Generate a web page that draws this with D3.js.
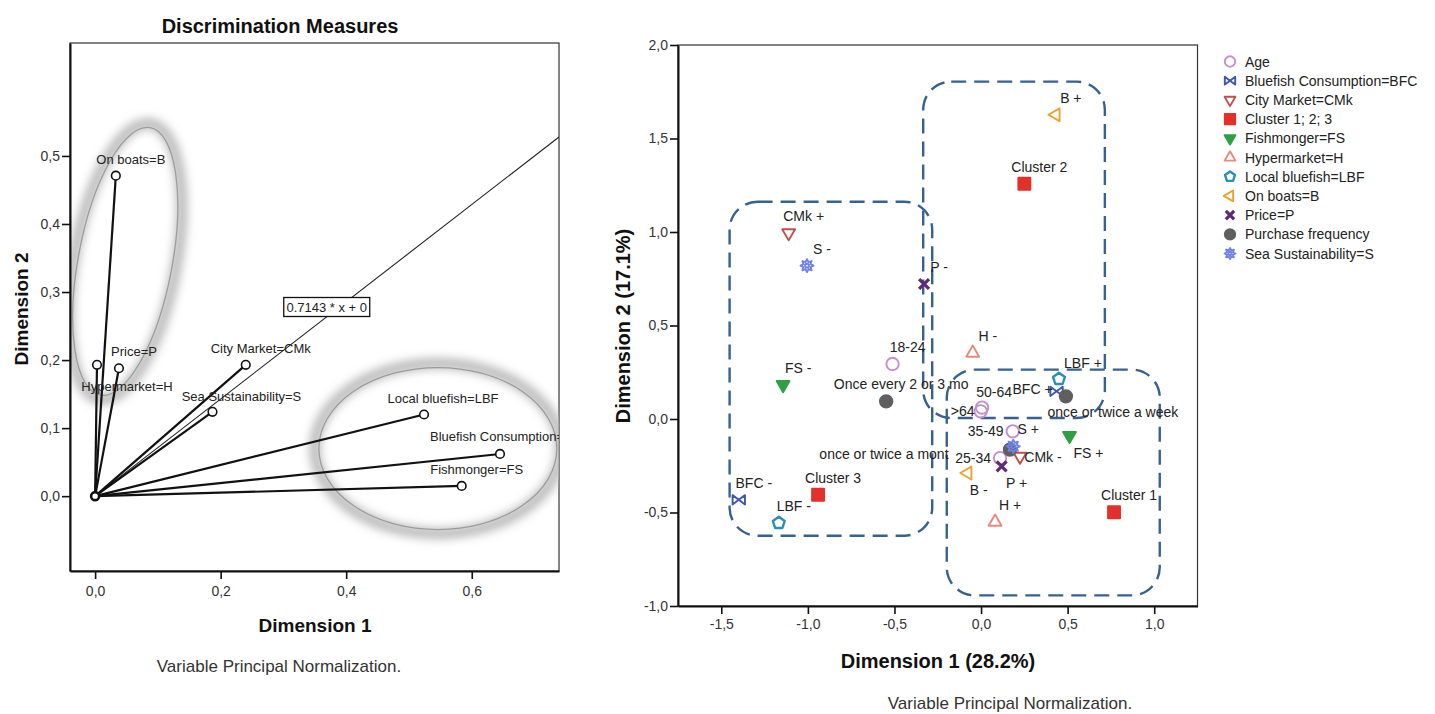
<!DOCTYPE html>
<html>
<head>
<meta charset="utf-8">
<title>Discrimination Measures and Joint Plot</title>
<script src="https://cdn.jsdelivr.net/npm/d3@7"></script>
<style>
  body { margin: 0; background: #fff; }
  svg text { font-family: "Liberation Sans", Arial, sans-serif; }
</style>
</head>
<body>
<svg id="chart" width="1435" height="714"></svg>
<script>
// ---- left panel: discrimination measures
var dmNames = ['On boats=B', 'Price=P', 'Hypermarket=H', 'City Market=CMk', 'Sea Sustainability=S',
               'Local bluefish=LBF', 'Bluefish Consumption=BFC', 'Fishmonger=FS']
var dmDim1 = [0.033, 0.038, 0.003, 0.240, 0.187, 0.524, 0.645, 0.584]
var dmDim2 = [0.471, 0.188, 0.193, 0.193, 0.124, 0.120, 0.062, 0.015]
var dmTicksX = [0.0, 0.2, 0.4, 0.6]
var dmTicksY = [0.0, 0.1, 0.2, 0.3, 0.4, 0.5]
var fitSlope = 0.7143
var fitText = '0.7143 * x + 0'

// ---- right panel: category points
var legendNames = ['Age', 'Bluefish Consumption=BFC', 'City Market=CMk', 'Cluster 1; 2; 3', 'Fishmonger=FS',
                   'Hypermarket=H', 'Local bluefish=LBF', 'On boats=B', 'Price=P', 'Purchase frequency',
                   'Sea Sustainability=S']
var catLabels = ['18-24', '25-34', '35-49', '50-64', '>64',
                 'BFC -', 'BFC +', 'CMk +', 'CMk -',
                 'Cluster 1', 'Cluster 2', 'Cluster 3',
                 'FS -', 'FS +', 'H -', 'H +', 'LBF +', 'LBF -', 'B +', 'B -', 'P -', 'P +',
                 'Once every 2 or 3 mo', 'once or twice a mont', 'once or twice a week',
                 'S -', 'S +']
var catGroup = [0, 0, 0, 0, 0,
                1, 1, 2, 2,
                3, 3, 3,
                4, 4, 5, 5, 6, 6, 7, 7, 8, 8,
                9, 9, 9,
                10, 10]
var catDim1 = [-0.511, 0.110, 0.183, 0.006, -0.002,
               -1.399, 0.436, -1.111, 0.225,
               0.768, 0.250, -0.941,
               -1.143, 0.511, -0.048, 0.081, 0.450, -1.168, 0.432, -0.077, -0.329, 0.119,
               -0.548, 0.167, 0.490,
               -1.005, 0.186]
var catDim2 = [0.294, -0.209, -0.066, 0.061, 0.041,
               -0.432, 0.148, 0.995, -0.200,
               -0.499, 1.258, -0.405,
               0.183, -0.089, 0.353, -0.551, 0.214, -0.556, 1.627, -0.289, 0.722, -0.253,
               0.094, -0.164, 0.121,
               0.820, -0.146]
var jpTicksX = [-1.5, -1.0, -0.5, 0.0, 0.5, 1.0]
var jpTicksY = [-1.0, -0.5, 0.0, 0.5, 1.0, 1.5, 2.0]
// dashed cluster regions [x0, x1, y0, y1] in dimension units
var regionX0 = [-1.452, -0.334, -0.198]
var regionX1 = [-0.282, 0.715, 1.032]
var regionY0 = [-0.624, 0.005, -0.943]
var regionY1 = [1.162, 1.804, 0.264]

// ---- styles and label placement
var groupStyle = [
  {shape: 'circle', color: '#c58fca', fill: false},
  {shape: 'bowtie', color: '#3b57b3', fill: false},
  {shape: 'triDown', color: '#c0504d', fill: false},
  {shape: 'square', color: '#e4302a', fill: true},
  {shape: 'triDown', color: '#2ea043', fill: true},
  {shape: 'triUp', color: '#e58b7b', fill: false},
  {shape: 'pentagon', color: '#2a8fb5', fill: false},
  {shape: 'triLeft', color: '#f0a030', fill: false},
  {shape: 'x', color: '#5e2a78', fill: false},
  {shape: 'circle', color: '#5f5f5f', fill: true},
  {shape: 'star', color: '#6f82e6', fill: false}
]
var jpLabelShift = {
  'LBF +': [24, -16], 'BFC +': [-24, -2], 'once or twice a week': [47, 16], '>64': [-18, 0],
  '50-64': [12, -16], '35-49': [-27, 0], '25-34': [-27, 0], 'CMk -': [23, 1], 'P +': [15, 17],
  'B -': [11, 17], 'FS +': [19, 17], 'once or twice a mont': [-126, 4]
}
var dmLabelShift = {
  'Hypermarket=H': [30, 22], 'Sea Sustainability=S': [29, -15], 'Local bluefish=LBF': [19, -16.5]
}

var svg = d3.select('#chart')
var fmt = d3.formatLocale({decimal: ',', thousands: '.', grouping: [3], currency: ['', ''], minus: '-'}).format('.1f')
var defs = svg.append('defs')
defs.append('filter').attr('id', 'glow').attr('x', '-40%').attr('y', '-40%').attr('width', '180%').attr('height', '180%')
  .append('feGaussianBlur').attr('stdDeviation', 5)

function markerPath(shape, r) {
  var p = d3.path(), i, a
  if (shape === 'circle') {
    p.moveTo(r, 0); p.arc(0, 0, r, 0, 2 * Math.PI); p.closePath()
  } else if (shape === 'square') {
    p.rect(-r, -r, 2 * r, 2 * r)
  } else if (shape.indexOf('tri') === 0) {
    var rot = {triUp: -90, triDown: 90, triLeft: 180}[shape]
    for (i = 0; i < 3; i++) {
      a = (rot + i * 120) * Math.PI / 180
      if (i) p.lineTo(r * 1.2 * Math.cos(a), r * 1.2 * Math.sin(a))
      else p.moveTo(r * 1.2 * Math.cos(a), r * 1.2 * Math.sin(a))
    }
    p.closePath()
  } else if (shape === 'pentagon') {
    for (i = 0; i < 5; i++) {
      a = (-90 + i * 72) * Math.PI / 180
      if (i) p.lineTo(r * Math.cos(a), r * Math.sin(a))
      else p.moveTo(r * Math.cos(a), r * Math.sin(a))
    }
    p.closePath()
  } else if (shape === 'bowtie') {
    p.moveTo(-r, -r * 0.75); p.lineTo(0, 0); p.lineTo(-r, r * 0.75); p.closePath()
    p.moveTo(r, -r * 0.75); p.lineTo(0, 0); p.lineTo(r, r * 0.75); p.closePath()
  } else if (shape === 'x') {
    p.moveTo(-r * 0.8, -r * 0.8); p.lineTo(r * 0.8, r * 0.8)
    p.moveTo(r * 0.8, -r * 0.8); p.lineTo(-r * 0.8, r * 0.8)
  } else if (shape === 'star') {
    for (i = 0; i < 16; i++) {
      a = (-90 + i * 22.5) * Math.PI / 180
      var rr = i % 2 ? r * 0.62 : r * 1.05
      if (i) p.lineTo(rr * Math.cos(a), rr * Math.sin(a))
      else p.moveTo(rr * Math.cos(a), rr * Math.sin(a))
    }
    p.closePath()
    p.moveTo(r * 0.3, 0); p.arc(0, 0, r * 0.3, 0, 2 * Math.PI)
  }
  return p.toString()
}

function drawMarker(sel, st, r) {
  sel.append('path')
    .attr('d', markerPath(st.shape, r))
    .attr('fill', st.fill ? st.color : 'none')
    .attr('stroke', st.color)
    .attr('stroke-width', st.shape === 'x' ? 3.2 : (st.shape === 'pentagon' ? 2.4 : 1.9))
    .attr('stroke-linejoin', 'round')
}

function styleAxis(g) {
  g.select('.domain').attr('stroke', '#111').attr('stroke-width', 2)
  g.selectAll('.tick line').attr('stroke', '#111').attr('stroke-width', 1.6)
  g.selectAll('.tick text').attr('font-size', 14).attr('fill', '#333')
    .attr('font-family', '"Liberation Sans", Arial, sans-serif')
}

// =============== LEFT PANEL ===============
var L = {left: 70, right: 559, top: 43, bottom: 571}
var xL = d3.scaleLinear().domain([-0.040, 0.739]).range([L.left, L.right])
var yL = d3.scaleLinear().domain([-0.110, 0.666]).range([L.bottom, L.top])
defs.append('clipPath').attr('id', 'clipL').append('rect')
  .attr('x', L.left).attr('y', L.top).attr('width', L.right - L.left).attr('height', L.bottom - L.top)

var gL = svg.append('g')
gL.append('rect').attr('x', L.left).attr('y', L.top).attr('width', L.right - L.left).attr('height', L.bottom - L.top)
  .attr('fill', 'none').attr('stroke', '#333').attr('stroke-width', 1.2)

gL.append('text').attr('x', 280).attr('y', 33).attr('text-anchor', 'middle')
  .attr('font-size', 20).attr('font-weight', 'bold').attr('fill', '#111').text('Discrimination Measures')

var plotL = gL.append('g').attr('clip-path', 'url(#clipL)')

// highlighted groups
var ellipses = [
  {cx: 0.048, cy: 0.345, rx: 47, ry: 136, rot: 10.6},
  {cx: 0.546, cy: 0.070, rx: 119, ry: 81, rot: 0}
]
ellipses.forEach(function(e) {
  var cx = xL(e.cx), cy = yL(e.cy)
  plotL.append('ellipse').attr('cx', cx).attr('cy', cy).attr('rx', e.rx + 4).attr('ry', e.ry + 4)
    .attr('transform', 'rotate(' + e.rot + ',' + cx + ',' + cy + ')')
    .attr('fill', 'none').attr('stroke', '#b9b9b9').attr('stroke-width', 11).attr('filter', 'url(#glow)')
  plotL.append('ellipse').attr('cx', cx).attr('cy', cy).attr('rx', e.rx).attr('ry', e.ry)
    .attr('transform', 'rotate(' + e.rot + ',' + cx + ',' + cy + ')')
    .attr('fill', 'none').attr('stroke', '#9c9c9c').attr('stroke-width', 1.3)
})

// fit line
var xEnd = xL.domain()[1]
plotL.append('line').attr('x1', xL(0)).attr('y1', yL(0)).attr('x2', xL(xEnd)).attr('y2', yL(fitSlope * xEnd))
  .attr('stroke', '#222').attr('stroke-width', 1.1)
var fitBox = plotL.append('g').attr('transform', 'translate(' + xL(0.369) + ',' + yL(0.278) + ')')
fitBox.append('rect').attr('x', -43).attr('y', -9.5).attr('width', 86).attr('height', 19)
  .attr('fill', '#fff').attr('stroke', '#111').attr('stroke-width', 1.3)
fitBox.append('text').attr('x', 0).attr('y', 5).attr('text-anchor', 'middle').attr('font-size', 13)
  .attr('fill', '#222').text(fitText)

// vectors
var dm = dmNames.map(function(n, i) { return {name: n, x: dmDim1[i], y: dmDim2[i]} })
plotL.selectAll('.vec').data(dm).enter().append('line')
  .attr('x1', xL(0)).attr('y1', yL(0))
  .attr('x2', function(d) { return xL(d.x) }).attr('y2', function(d) { return yL(d.y) })
  .attr('stroke', '#111').attr('stroke-width', 2.2)
plotL.selectAll('.pt').data(dm).enter().append('circle')
  .attr('cx', function(d) { return xL(d.x) }).attr('cy', function(d) { return yL(d.y) })
  .attr('r', 4.3).attr('fill', '#fff').attr('stroke', '#111').attr('stroke-width', 1.6)
plotL.append('circle').attr('cx', xL(0)).attr('cy', yL(0)).attr('r', 4)
  .attr('fill', '#fff').attr('stroke', '#111').attr('stroke-width', 2.6)
plotL.selectAll('.lab').data(dm).enter().append('text')
  .attr('font-size', 13).attr('fill', '#222')
  .attr('text-anchor', function(d) { return d.name === 'Bluefish Consumption=BFC' ? 'start' : 'middle' })
  .attr('x', function(d) {
    if (d.name === 'Bluefish Consumption=BFC') return xL(d.x) - 70
    return xL(d.x) + (dmLabelShift[d.name] ? dmLabelShift[d.name][0] : 15)
  })
  .attr('y', function(d) {
    if (d.name === 'Bluefish Consumption=BFC') return yL(d.y) - 13
    return yL(d.y) + (dmLabelShift[d.name] ? dmLabelShift[d.name][1] : -16.5) + 4.5
  })
  .text(function(d) { return d.name })

gL.append('g').attr('transform', 'translate(0,' + L.bottom + ')')
  .call(d3.axisBottom(xL).tickValues(dmTicksX).tickFormat(fmt).tickSize(8).tickSizeOuter(0).tickPadding(7))
  .call(styleAxis)
gL.append('g').attr('transform', 'translate(' + L.left + ',0)')
  .call(d3.axisLeft(yL).tickValues(dmTicksY).tickFormat(fmt).tickSize(8).tickSizeOuter(0).tickPadding(2))
  .call(styleAxis)

gL.append('text').attr('x', 315).attr('y', 632).attr('text-anchor', 'middle').attr('font-size', 19)
  .attr('font-weight', 'bold').attr('fill', '#111').text('Dimension 1')
gL.append('text').attr('transform', 'translate(28,309) rotate(-90)').attr('text-anchor', 'middle')
  .attr('font-size', 19).attr('font-weight', 'bold').attr('fill', '#111').text('Dimension 2')
gL.append('text').attr('x', 279).attr('y', 672).attr('text-anchor', 'middle').attr('font-size', 17)
  .attr('fill', '#333').text('Variable Principal Normalization.')

// =============== RIGHT PANEL ===============
var R = {left: 678, right: 1197.5, top: 45, bottom: 606}
var xR = d3.scaleLinear().domain([-1.75, 1.25]).range([R.left, R.right])
var yR = d3.scaleLinear().domain([-1.0, 2.0]).range([R.bottom, R.top])
defs.append('clipPath').attr('id', 'clipR').append('rect')
  .attr('x', R.left).attr('y', R.top).attr('width', R.right - R.left).attr('height', R.bottom - R.top)

var gR = svg.append('g')
gR.append('rect').attr('x', R.left).attr('y', R.top).attr('width', R.right - R.left).attr('height', R.bottom - R.top)
  .attr('fill', 'none').attr('stroke', '#333').attr('stroke-width', 1.2)
var plotR = gR.append('g').attr('clip-path', 'url(#clipR)')

// cluster regions
plotR.selectAll('.region').data(regionX0).enter().append('rect')
  .attr('x', function(d) { return xR(d) })
  .attr('y', function(d, i) { return yR(regionY1[i]) })
  .attr('width', function(d, i) { return xR(regionX1[i]) - xR(d) })
  .attr('height', function(d, i) { return yR(regionY0[i]) - yR(regionY1[i]) })
  .attr('rx', 28).attr('ry', 28)
  .attr('fill', 'none').attr('stroke', '#37628f').attr('stroke-width', 2.4)
  .attr('stroke-dasharray', '15,8')

var cats = catLabels.map(function(n, i) { return {name: n, g: catGroup[i], x: catDim1[i], y: catDim2[i]} })
cats.forEach(function(d) {
  var m = plotR.append('g').attr('transform', 'translate(' + xR(d.x) + ',' + yR(d.y) + ')')
  drawMarker(m, groupStyle[d.g], groupStyle[d.g].shape === 'square' ? 6 : 6.2)
})
plotR.selectAll('.clab').data(cats).enter().append('text')
  .attr('font-size', 14).attr('fill', '#222').attr('text-anchor', 'middle')
  .attr('x', function(d) { return xR(d.x) + (jpLabelShift[d.name] ? jpLabelShift[d.name][0] : 15) })
  .attr('y', function(d) { return yR(d.y) + (jpLabelShift[d.name] ? jpLabelShift[d.name][1] : -17) + 5 })
  .text(function(d) { return d.name })

gR.append('g').attr('transform', 'translate(0,' + R.bottom + ')')
  .call(d3.axisBottom(xR).tickValues(jpTicksX).tickFormat(fmt).tickSize(8).tickSizeOuter(0).tickPadding(5))
  .call(styleAxis)
gR.append('g').attr('transform', 'translate(' + R.left + ',0)')
  .call(d3.axisLeft(yR).tickValues(jpTicksY).tickFormat(fmt).tickSize(8).tickSizeOuter(0).tickPadding(2))
  .call(styleAxis)

gR.append('text').attr('x', 938).attr('y', 668).attr('text-anchor', 'middle').attr('font-size', 20)
  .attr('font-weight', 'bold').attr('fill', '#111').text('Dimension 1 (28.2%)')
gR.append('text').attr('transform', 'translate(630,326) rotate(-90)').attr('text-anchor', 'middle')
  .attr('font-size', 20).attr('font-weight', 'bold').attr('fill', '#111').text('Dimension 2 (17.1%)')
gR.append('text').attr('x', 1010).attr('y', 709).attr('text-anchor', 'middle').attr('font-size', 17)
  .attr('fill', '#333').text('Variable Principal Normalization.')

// legend
var leg = svg.append('g').attr('transform', 'translate(1230,61.5)')
legendNames.forEach(function(n, i) {
  var row = leg.append('g').attr('transform', 'translate(0,' + (i * 19.2) + ')')
  drawMarker(row, groupStyle[i], 5.2)
  row.append('text').attr('x', 15).attr('y', 5).attr('font-size', 14).attr('fill', '#222').text(n)
})
</script>
</body>
</html>
